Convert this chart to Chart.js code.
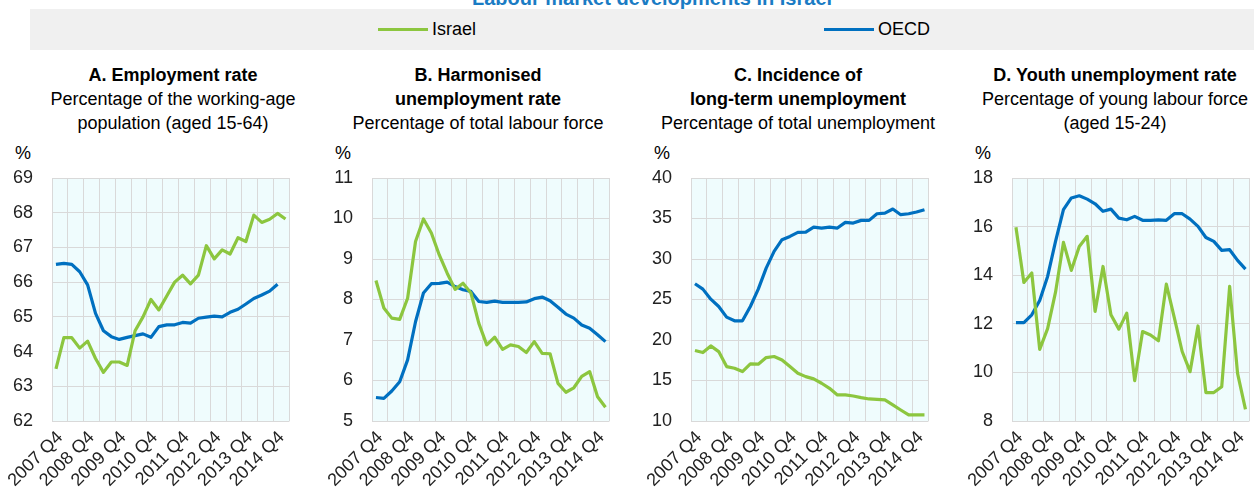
<!DOCTYPE html>
<html>
<head>
<meta charset="utf-8">
<script src="https://cdn.jsdelivr.net/npm/chart.js@4.4.1/dist/chart.umd.min.js"></script>
<style>
  body { margin: 0; width: 1254px; height: 489px; overflow: hidden; position: relative; background: #fff;
         font-family: "Liberation Sans", Arial, sans-serif; color: #000; }
  #title { position: absolute; top: -12px; left: 0; width: 1304px; text-align: center; font-size: 20px;
           line-height: 20px; font-weight: bold; color: #1a7cc4; }
  #legend { position: absolute; left: 30px; top: 9px; width: 1224px; height: 41px; background: #f0f0f0; }
  .key { position: absolute; top: 10px; font-size: 18px; line-height: 20px; }
  .key i { position: absolute; left: -54px; top: 9px; width: 50px; height: 3px; }
  .ptitle { position: absolute; top: 63px; width: 340px; text-align: center; font-size: 18px; line-height: 24px; }
  .ptitle b { display: block; }
  .pct { position: absolute; top: 143px; font-size: 18px; }
  canvas { position: absolute; top: 140px; }
</style>
</head>
<body>
<div id="title">Labour market developments in Israel</div>
<div id="legend">
  <span class="key" style="left:402px"><i style="background:#8cc63f"></i>Israel</span>
  <span class="key" style="left:848px"><i style="background:#0070c0"></i>OECD</span>
</div>

<div class="ptitle" style="left:3px"><b>A. Employment rate</b>Percentage of the working-age<br>population (aged 15-64)</div>
<div class="ptitle" style="left:308px"><b>B. Harmonised</b><b>unemployment rate</b>Percentage of total labour force</div>
<div class="ptitle" style="left:628px"><b>C. Incidence of</b><b>long-term unemployment</b>Percentage of total unemployment</div>
<div class="ptitle" style="left:945px"><b>D. Youth unemployment rate</b>Percentage of young labour force<br>(aged 15-24)</div>

<div class="pct" style="left:15px">%</div>
<div class="pct" style="left:335px">%</div>
<div class="pct" style="left:654px">%</div>
<div class="pct" style="left:975px">%</div>

<canvas id="cA" width="307" height="349" style="left:0px"></canvas>
<canvas id="cB" width="307" height="349" style="left:320px"></canvas>
<canvas id="cC" width="307" height="349" style="left:639px"></canvas>
<canvas id="cD" width="307" height="349" style="left:960px"></canvas>

<script>
var quarters = ['2007 Q4',
  '2008 Q1', '2008 Q2', '2008 Q3', '2008 Q4',
  '2009 Q1', '2009 Q2', '2009 Q3', '2009 Q4',
  '2010 Q1', '2010 Q2', '2010 Q3', '2010 Q4',
  '2011 Q1', '2011 Q2', '2011 Q3', '2011 Q4',
  '2012 Q1', '2012 Q2', '2012 Q3', '2012 Q4',
  '2013 Q1', '2013 Q2', '2013 Q3', '2013 Q4',
  '2014 Q1', '2014 Q2', '2014 Q3', '2014 Q4',
  '2015 Q1'];

// A. Employment rate
var israelEmp = [63.5, 64.4, 64.4, 64.1, 64.3, 63.8, 63.4, 63.7, 63.7, 63.6, 64.6, 65.0, 65.5, 65.2, 65.6, 66.0, 66.2, 65.95, 66.2, 67.05, 66.67, 66.93, 66.81, 67.28, 67.17, 67.93, 67.72, 67.81, 67.98, 67.82];
var oecdEmp = [66.51, 66.54, 66.51, 66.3, 65.92, 65.1, 64.6, 64.43, 64.35, 64.41, 64.46, 64.51, 64.41, 64.72, 64.77, 64.77, 64.84, 64.82, 64.96, 64.99, 65.02, 65.0, 65.13, 65.22, 65.37, 65.53, 65.63, 65.74, 65.94, null];

// B. Harmonised unemployment rate
var israelUnemp = [8.47, 7.79, 7.54, 7.51, 8.03, 9.43, 9.99, 9.64, 9.1, 8.65, 8.25, 8.4, 8.16, 7.41, 6.88, 7.07, 6.77, 6.88, 6.84, 6.69, 6.96, 6.67, 6.66, 5.93, 5.71, 5.82, 6.1, 6.22, 5.6, 5.34];
var oecdUnemp = [5.58, 5.56, 5.74, 5.97, 6.51, 7.45, 8.16, 8.39, 8.4, 8.43, 8.32, 8.24, 8.2, 7.95, 7.93, 7.96, 7.93, 7.93, 7.93, 7.94, 8.02, 8.06, 7.97, 7.81, 7.64, 7.54, 7.37, 7.29, 7.13, 6.96];

// C. Incidence of long-term unemployment
var israelLtu = [18.7, 18.45, 19.27, 18.57, 16.72, 16.51, 16.1, 17.05, 17.01, 17.83, 17.96, 17.54, 16.72, 15.9, 15.48, 15.2, 14.66, 14.04, 13.22, 13.22, 13.09, 12.89, 12.72, 12.68, 12.6, 11.99, 11.36, 10.75, 10.75, 10.75];
var oecdLtu = [26.94, 26.28, 25.04, 24.14, 22.82, 22.37, 22.37, 24.14, 26.28, 28.88, 30.94, 32.38, 32.79, 33.28, 33.32, 33.94, 33.82, 33.94, 33.82, 34.52, 34.44, 34.77, 34.77, 35.59, 35.67, 36.17, 35.47, 35.59, 35.8, 36.09];

// D. Youth unemployment rate
var israelYouth = [15.97, 13.7, 14.09, 10.95, 11.8, 13.3, 15.35, 14.2, 15.18, 15.6, 12.51, 14.36, 12.37, 11.78, 12.44, 9.66, 11.68, 11.54, 11.3, 13.63, 12.26, 10.86, 10.03, 11.91, 9.17, 9.17, 9.41, 13.54, 9.96, 8.48];
var oecdYouth = [12.05, 12.05, 12.37, 12.96, 13.95, 15.39, 16.7, 17.18, 17.27, 17.13, 16.94, 16.63, 16.72, 16.35, 16.28, 16.42, 16.26, 16.26, 16.28, 16.26, 16.53, 16.53, 16.31, 16.01, 15.55, 15.39, 15.02, 15.05, 14.61, 14.25];

var green = '#8cc63f';
var blue = '#0070c0';
var gridGrey = '#d9d9d9';
var tickFont = { family: '"Liberation Sans", Arial, sans-serif', size: 18 };

// light cyan fill behind the plot area
var plotBg = {
    id: 'plotBg',
    beforeDraw: function(chart) {
        var a = chart.chartArea;
        var ctx = chart.ctx;
        ctx.save();
        ctx.fillStyle = '#effcfd';
        ctx.fillRect(a.left, a.top, a.right - a.left, a.bottom - a.top);
        ctx.restore();
    }
};

function panel(id, israel, oecd, ymin, ymax, step) {
    new Chart(document.getElementById(id), {
        type: 'line',
        data: {
            labels: quarters,
            datasets: [
                { label: 'Israel', data: israel, borderColor: green, backgroundColor: green },
                { label: 'OECD', data: oecd, borderColor: blue, backgroundColor: blue }
            ]
        },
        options: {
            responsive: false,
            animation: false,
            layout: { padding: { top: 38, right: 15, left: 0, bottom: 0 } },
            elements: {
                point: { radius: 0 },
                line: { tension: 0, borderWidth: 3.2, borderJoinStyle: 'round' }
            },
            plugins: { legend: { display: false }, tooltip: { enabled: false } },
            scales: {
                x: {
                    offset: true,
                    grid: {
                        offset: true,
                        drawTicks: false,
                        color: function(c) {
                            return (c.index === undefined || c.index % 2 === 0) ? gridGrey : 'rgba(0,0,0,0)';
                        }
                    },
                    border: { display: false },
                    ticks: {
                        autoSkip: false,
                        minRotation: 45,
                        maxRotation: 45,
                        padding: 6,
                        labelOffset: 4,
                        color: '#222',
                        font: tickFont,
                        callback: function(v) {
                            var l = this.getLabelForValue(v);
                            return l.indexOf('Q4') > 0 ? l : '';
                        }
                    },
                    afterFit: function(s) { s.height = 68; }
                },
                y: {
                    min: ymin,
                    max: ymax,
                    grid: { drawTicks: false, color: gridGrey },
                    border: { display: false },
                    ticks: { stepSize: step, padding: 19, color: '#222', font: tickFont },
                    afterFit: function(s) { s.width = 52; }
                }
            }
        },
        plugins: [plotBg]
    });
}

panel('cA', israelEmp, oecdEmp, 62, 69, 1);
panel('cB', israelUnemp, oecdUnemp, 5, 11, 1);
panel('cC', israelLtu, oecdLtu, 10, 40, 5);
panel('cD', israelYouth, oecdYouth, 8, 18, 2);
</script>
</body>
</html>
